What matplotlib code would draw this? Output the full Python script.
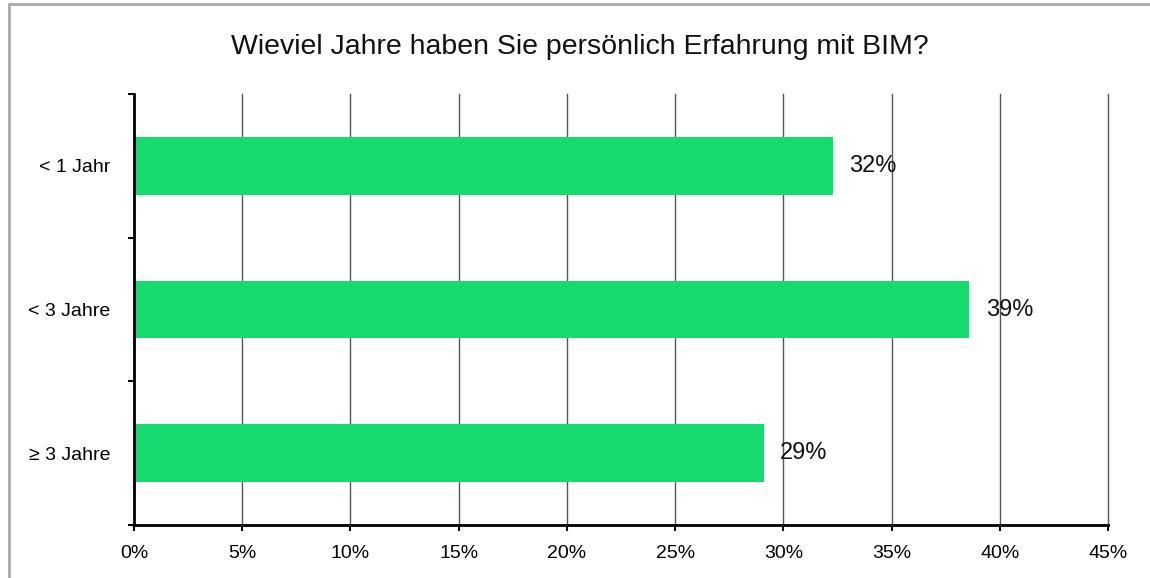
import matplotlib.pyplot as plt
from matplotlib.patches import Rectangle

categories = ['< 1 Jahr', '< 3 Jahre', '\u2265 3 Jahre']
values = [32.3, 38.6, 29.1]
labels = ['32%', '39%', '29%']
xticks = [0, 5, 10, 15, 20, 25, 30, 35, 40, 45]

plt.rcParams['font.family'] = ['Liberation Sans', 'DejaVu Sans']

fig = plt.figure(figsize=(11.5, 5.78), dpi=100)
ax = fig.add_axes([134 / 1150, 1 - 525 / 578, (1108 - 134) / 1150, (525 - 94) / 578])

ypos = list(range(len(categories)))
ax.barh(ypos, values, height=0.4, color='#16DA6E', zorder=3)
for y, v, t in zip(ypos, values, labels):
    ax.text(v + 0.75, y, t, va='center', ha='left', fontsize=17, color='#111111', zorder=4)

ax.set_xlim(0, 45)
ax.set_ylim(len(categories) - 0.5, -0.5)
ax.set_xticks(xticks)
ax.set_xticklabels([f'{x}%' for x in xticks], fontsize=14)
ax.set_yticks(ypos)
ax.set_yticklabels(categories, fontsize=14)
ax.set_yticks([-0.5, 0.5, 1.5, 2.5], minor=True)
ax.tick_params(axis='y', which='major', length=0, pad=17)
ax.tick_params(axis='y', which='minor', length=4.5, width=1.5, direction='out')
ax.tick_params(axis='x', length=4.5, width=1.5, direction='out', pad=10)

ax.grid(axis='x', color='#555555', linewidth=1, zorder=0)
for gl in ax.get_xgridlines():
    gl.set_clip_on(False)
for s in ['top', 'right']:
    ax.spines[s].set_visible(False)
for s in ['left', 'bottom']:
    ax.spines[s].set_linewidth(2)
    ax.spines[s].set_zorder(5)

fig.text(580 / 1150, 1 - 47 / 578, 'Wieviel Jahre haben Sie persönlich Erfahrung mit BIM?',
         ha='center', va='center', fontsize=20.5, color='#111111')

fig.patches.append(Rectangle((8.5 / 1150, -0.1), 1.2, 1.1 - 4.5 / 578,
                             transform=fig.transFigure, fill=False,
                             edgecolor='#a8a8a8', linewidth=2, clip_on=False))

fig.savefig('out.png', dpi=100)
